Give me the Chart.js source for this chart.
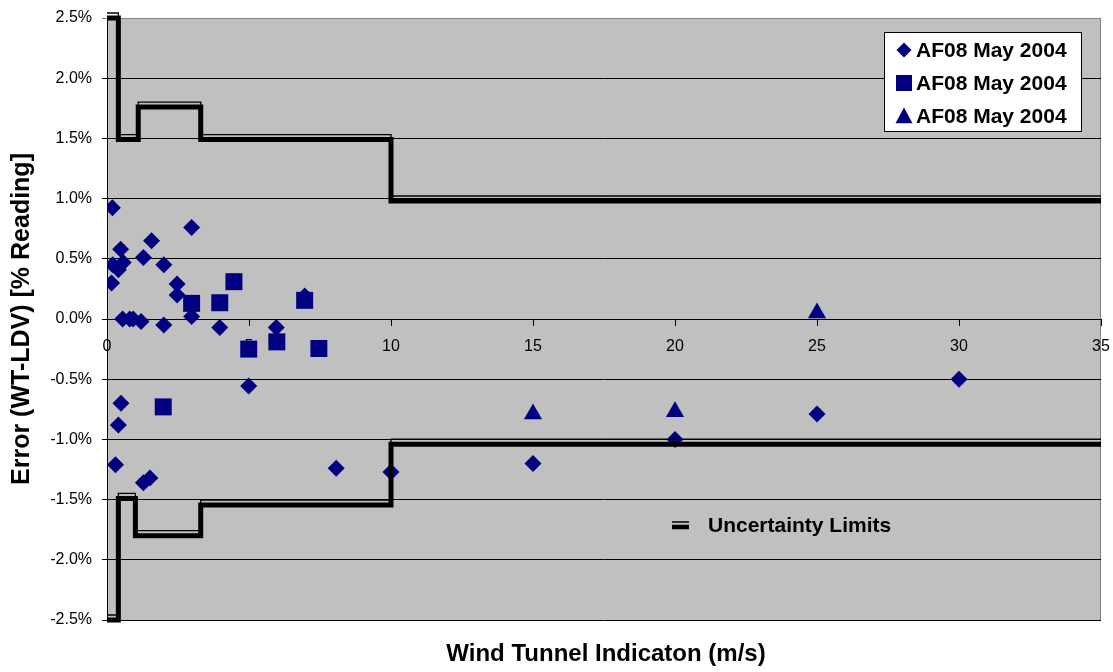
<!DOCTYPE html>
<html>
<head>
<meta charset="utf-8">
<script src="https://cdn.jsdelivr.net/npm/chart.js@4.4.1/dist/chart.umd.min.js"></script>
<style>
html,body{margin:0;padding:0;background:#ffffff;}
#wrap{width:1113px;height:672px;position:relative;}
</style>
</head>
<body>
<div id="wrap"><canvas id="c"></canvas></div>
<script>
// ---------- data ----------
const seriesLabels = ['AF08 May 2004', 'AF08 May 2004', 'AF08 May 2004'];
const limitLabel = 'Uncertainty Limits';
const xTitle = 'Wind Tunnel Indicaton (m/s)';
const yTitle = 'Error (WT-LDV) [% Reading]';

const xMin = 0, xMax = 35, xStep = 5;
const yMin = -2.5, yMax = 2.5, yStep = 0.5;

// series 1 (diamonds): x = wind speed (m/s), y = error (%)
const diamondX = [0.19, 0.2, 0.48, 0.57, 0.4, 0.16, 1.28, 1.57, 2.0, 2.98, 2.47, 2.47, 2.98,
                  0.55, 0.8, 0.92, 1.2, 2.0, 3.97, 5.96, 6.96,
                  0.49, 0.4, 4.99, 0.3, 1.51, 1.28, 8.07, 10.0, 15, 20, 25, 30];
const diamondY = [0.925, 0.45, 0.58, 0.47, 0.41, 0.30, 0.51, 0.65, 0.45, 0.76, 0.29, 0.20, 0.02,
                  0.0, 0.0, 0.0, -0.02, -0.05, -0.07, -0.07, 0.19,
                  -0.70, -0.88, -0.556, -1.21, -1.32, -1.36, -1.24, -1.27, -1.20, -1.00, -0.79, -0.50];

// series 2 (squares)
const squareX = [2.98, 3.97, 4.47, 6.96, 4.99, 5.98, 7.46, 1.98];
const squareY = [0.13, 0.135, 0.31, 0.155, -0.25, -0.19, -0.245, -0.73];

// series 3 (triangles)
const triangleX = [15, 20, 25];
const triangleY = [-0.79, -0.77, 0.05];

// uncertainty limits (stepped)
const upperLimitX = [0, 0.4, 1.1, 3.3, 10, 35];
const upperLimit  = [2.5, 1.49, 1.76, 1.49, 0.98, 0.98];
const lowerLimitX = [0, 0.4, 1.0, 3.3, 10, 35];
const lowerLimit  = [-2.5, -1.49, -1.8, -1.545, -1.04, -1.04];

// ---------- chart ----------
const FONT = 'Arial, "Liberation Sans", Helvetica, sans-serif';
const NAVY = '#000080';
const pts = (xs, ys) => xs.map((x, i) => ({x: x, y: ys[i]}));

function limitDataset(xs, ys, thin) {
  return {
    type: 'line',
    label: limitLabel,
    data: pts(xs, ys),
    stepped: 'before',
    borderColor: '#000000',
    borderWidth: thin ? 1.3 : 5,
    pointRadius: 0,
    fill: false,
    clip: false,
    thin: thin,
    isLimit: true,
    order: 0
  };
}

const bgPlugin = {
  id: 'plotBg',
  beforeDraw(chart) {
    const {ctx, chartArea: a} = chart;
    ctx.save();
    ctx.fillStyle = '#ffffff';
    ctx.fillRect(0, 0, chart.width, chart.height);
    ctx.fillStyle = '#C0C0C0';
    ctx.fillRect(a.left, a.top, a.right - a.left, a.bottom - a.top);
    ctx.strokeStyle = '#808080';
    ctx.lineWidth = 1;
    ctx.beginPath();
    ctx.moveTo(a.left, a.top + 0.5);
    ctx.lineTo(a.right - 0.5, a.top + 0.5);
    ctx.lineTo(a.right - 0.5, a.bottom);
    ctx.stroke();
    ctx.restore();
  }
};

const offsetPlugin = {
  id: 'thinOffset',
  beforeDatasetDraw(chart, args) {
    if (chart.data.datasets[args.index].thin) {
      chart.ctx.save();
      chart.ctx.translate(0, -5);
    }
  },
  afterDatasetDraw(chart, args) {
    if (chart.data.datasets[args.index].thin) chart.ctx.restore();
  }
};

function drawMarker(ctx, style, x, y, r) {
  ctx.beginPath();
  if (style === 'rectRot') {
    ctx.moveTo(x, y - r); ctx.lineTo(x + r, y); ctx.lineTo(x, y + r); ctx.lineTo(x - r, y);
  } else if (style === 'rect') {
    ctx.rect(x - r, y - r, 2 * r, 2 * r);
  } else if (style === 'triangle') {
    ctx.moveTo(x, y - r); ctx.lineTo(x + r, y + r * 0.85); ctx.lineTo(x - r, y + r * 0.85);
  }
  ctx.closePath();
  ctx.fill();
}

const legendPlugin = {
  id: 'customLegend',
  afterDraw(chart) {
    const {ctx, chartArea: a} = chart;
    const pointSets = chart.data.datasets.filter(d => !d.isLimit);
    ctx.save();
    // boxed legend, top right
    const bw = 197, bh = 99;
    const bx = a.right - 217, by = a.top + 14;
    ctx.fillStyle = '#ffffff';
    ctx.fillRect(bx, by, bw, bh);
    ctx.strokeStyle = '#000000';
    ctx.lineWidth = 1;
    ctx.strokeRect(bx + 0.5, by + 0.5, bw, bh);
    ctx.font = 'bold 21px ' + FONT;
    ctx.textBaseline = 'middle';
    ctx.textAlign = 'left';
    const sizes = {rectRot: 7.5, rect: 8, triangle: 8.5};
    pointSets.forEach((d, i) => {
      const cy = by + 18 + i * 33;
      ctx.fillStyle = NAVY;
      drawMarker(ctx, d.pointStyle, bx + 20, cy, sizes[d.pointStyle]);
      ctx.fillStyle = '#000000';
      ctx.fillText(d.label, bx + 32, cy + 1);
    });
    // uncertainty limits legend
    const lx = a.left + 565, ly = 527;
    ctx.strokeStyle = '#000000';
    ctx.lineWidth = 4.5;
    ctx.beginPath(); ctx.moveTo(lx, ly); ctx.lineTo(lx + 17, ly); ctx.stroke();
    ctx.lineWidth = 1.5;
    ctx.beginPath(); ctx.moveTo(lx, ly - 5); ctx.lineTo(lx + 17, ly - 5); ctx.stroke();
    ctx.fillStyle = '#000000';
    ctx.fillText(limitLabel, lx + 36, ly - 1);
    // x axis title, centred on the plot area
    ctx.font = 'bold 24px ' + FONT;
    ctx.textAlign = 'center';
    ctx.fillText(xTitle, (a.left + a.right) / 2 + 2, a.bottom + 34);
    ctx.restore();
  }
};

function noPad(scale) {
  scale.paddingLeft = 0; scale.paddingRight = 0;
  scale.paddingTop = 0; scale.paddingBottom = 0;
}

new Chart(document.getElementById('c'), {
  type: 'scatter',
  data: {
    datasets: [
      limitDataset(upperLimitX, upperLimit, false),
      limitDataset(lowerLimitX, lowerLimit, false),
      limitDataset(upperLimitX, upperLimit, true),
      limitDataset(lowerLimitX, lowerLimit, true),
      {
        label: seriesLabels[0], data: pts(diamondX, diamondY),
        pointStyle: 'rectRot', pointRadius: 8.5, pointHoverRadius: 8.5,
        backgroundColor: NAVY, borderColor: NAVY, borderWidth: 0, order: 3
      },
      {
        label: seriesLabels[1], data: pts(squareX, squareY),
        pointStyle: 'rect', pointRadius: 12, pointHoverRadius: 12,
        backgroundColor: NAVY, borderColor: NAVY, borderWidth: 0, order: 2
      },
      {
        label: seriesLabels[2], data: pts(triangleX, triangleY),
        pointStyle: 'triangle', pointRadius: 10.5, pointHoverRadius: 10.5,
        backgroundColor: NAVY, borderColor: NAVY, borderWidth: 0, order: 1
      }
    ]
  },
  options: {
    responsive: true,
    maintainAspectRatio: false,
    animation: false,
    events: [],
    layout: {padding: {top: 18, right: 10, left: 0, bottom: 52}},
    plugins: {
      legend: {display: false},
      tooltip: {enabled: false},
      title: {display: false}
    },
    scales: {
      x: {
        type: 'linear',
        position: {y: 0},
        min: xMin, max: xMax,
        afterFit: noPad,
        ticks: {stepSize: xStep, color: '#000000', font: {family: FONT, size: 16}, padding: 12, maxRotation: 0},
        grid: {drawOnChartArea: false, drawTicks: true, tickLength: 6, color: '#000000'},
        border: {display: true, color: '#000000', width: 1}
      },
      y: {
        type: 'linear',
        position: 'left',
        min: yMin, max: yMax,
        afterFit(scale) { scale.width = 107; noPad(scale); },
        ticks: {
          stepSize: yStep, color: '#000000', font: {family: FONT, size: 16}, padding: 10,
          callback: v => v.toFixed(1) + '%'
        },
        grid: {
          drawTicks: true, tickLength: 5,
          color: c => (c.tick && Math.abs(c.tick.value - yMax) < 1e-9) ? '#808080' : '#000000'
        },
        border: {display: true, color: '#000000', width: 1},
        title: {
          display: true, text: yTitle, color: '#000000',
          font: {family: FONT, size: 25, weight: 'bold'},
          padding: {top: 7, bottom: 0}
        }
      }
    }
  },
  plugins: [bgPlugin, offsetPlugin, legendPlugin]
});
</script>
</body>
</html>
